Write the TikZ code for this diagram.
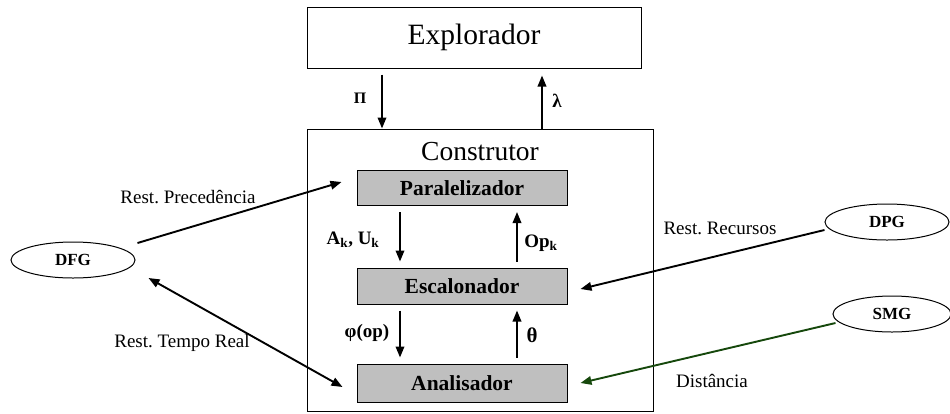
\documentclass[tikz,border=0pt]{standalone}
\usepackage{fontspec}
\setmainfont{Liberation Serif}
\usetikzlibrary{arrows.meta,shapes.geometric,positioning}
\definecolor{distgreen}{RGB}{22,72,12}
\frenchspacing
\tikzset{
frame/.style = { draw, line width=1pt },
stage/.style = { draw, line width=1pt, fill=black!25, minimum width=210pt, minimum height=36pt,
                 font=\fontsize{21.5}{24}\selectfont\bfseries },
graphnode/.style = { ellipse, draw, line width=1pt, minimum width=124pt, minimum height=36pt,
                     font=\fontsize{17}{20}\selectfont\bfseries },
flow/.style = { line width=1.9pt, -{Triangle[length=11pt,width=8.5pt]} },
tag/.style = { font=\fontsize{19}{22}\selectfont\bfseries },
rest/.style = { font=\fontsize{19}{22}\selectfont }
}

\begin{document}
\begin{tikzpicture}[x=1pt,y=-1pt]
	\useasboundingbox (0,0) rectangle (950,413);
	% blocos principais
	\node[frame, minimum width=334pt, minimum height=61pt, font=\fontsize{29.5}{32}\selectfont] (explorador) at (474,37.5) {Explorador};
	\node[frame, minimum width=346pt, minimum height=282pt] (construtor) at (480,270) {};
	\node[font=\fontsize{27.5}{30}\selectfont] (titulo) at (480,152) {Construtor};
	\node[stage, minimum height=35pt] (paralelizador) at (462,188) {Paralelizador};
	\node[stage] (escalonador) at (462,286) {Escalonador};
	\node[stage, minimum height=38pt] (analisador) at (462,383) {Analisador};
	% grafos de entrada
	\node[graphnode] (dfg) at (73,260) {DFG};
	\node[graphnode] (dpg) at (887,222) {DPG};
	\node[graphnode, minimum width=118pt] (smg) at (892,314) {SMG};
	% explorador <-> construtor
	\draw[flow, shorten <=6pt] ([xshift=-92pt]explorador.south) -- ([xshift=-92pt]explorador.south |- construtor.north);
	\draw[flow, shorten >=7pt] ([xshift=68pt]explorador.south |- construtor.north) -- ([xshift=68pt]explorador.south);
	\node[tag, font=\fontsize{16}{20}\selectfont\bfseries] (pi) at (360,98) {Π};
	\node[tag] (lambda) at (557,101) {λ};
	% fluxo interno
	\draw[flow, shorten <=6pt, shorten >=6pt] ([xshift=-62pt]paralelizador.south) -- ([xshift=-62pt]paralelizador.south |- escalonador.north);
	\draw[flow, shorten <=6pt, shorten >=6pt] ([xshift=55pt]paralelizador.south |- escalonador.north) -- ([xshift=55pt]paralelizador.south);
	\draw[flow, shorten <=6pt, shorten >=6pt] ([xshift=-62pt]escalonador.south) -- ([xshift=-62pt]escalonador.south |- analisador.north);
	\draw[flow, shorten <=6pt, shorten >=6pt] ([xshift=55pt]escalonador.south |- analisador.north) -- ([xshift=55pt]escalonador.south);
	\node[tag] (ak) at (353,240) {A\textsubscript{k}, U\textsubscript{k}};
	\node[tag] (opk) at (541,243) {Op\textsubscript{k}};
	\node[tag] (phi) at (367,333) {φ(op)};
	\node[tag, font=\fontsize{21}{24}\selectfont\bfseries] (theta) at (532,335) {θ};
	% restricoes
	\draw[flow] ([xshift=2pt,yshift=17pt]dfg.east) -- ([xshift=-15pt,yshift=6pt]paralelizador.west);
	\draw[flow, {Triangle[length=11pt,width=8.5pt]}-{Triangle[length=11pt,width=8.5pt]}] ([xshift=13pt,yshift=-18pt]dfg.east) -- ([xshift=-14pt,yshift=-4pt]analisador.west);
	\draw[flow] ([yshift=-8pt]dpg.west) -- ([xshift=13pt,yshift=-3pt]escalonador.east);
	\draw[flow, distgreen] ([xshift=3pt,yshift=-9pt]smg.west) -- ([xshift=13pt]analisador.east);
	\node[rest] (precedencia) at (188,197) {Rest. Precedência};
	\node[rest] (tempo) at (182,343) {Rest. Tempo Real};
	\node[rest] (recursos) at (720,228) {Rest. Recursos};
	\node[rest] (distancia) at (712,381) {Distância};
\end{tikzpicture}
\end{document}
